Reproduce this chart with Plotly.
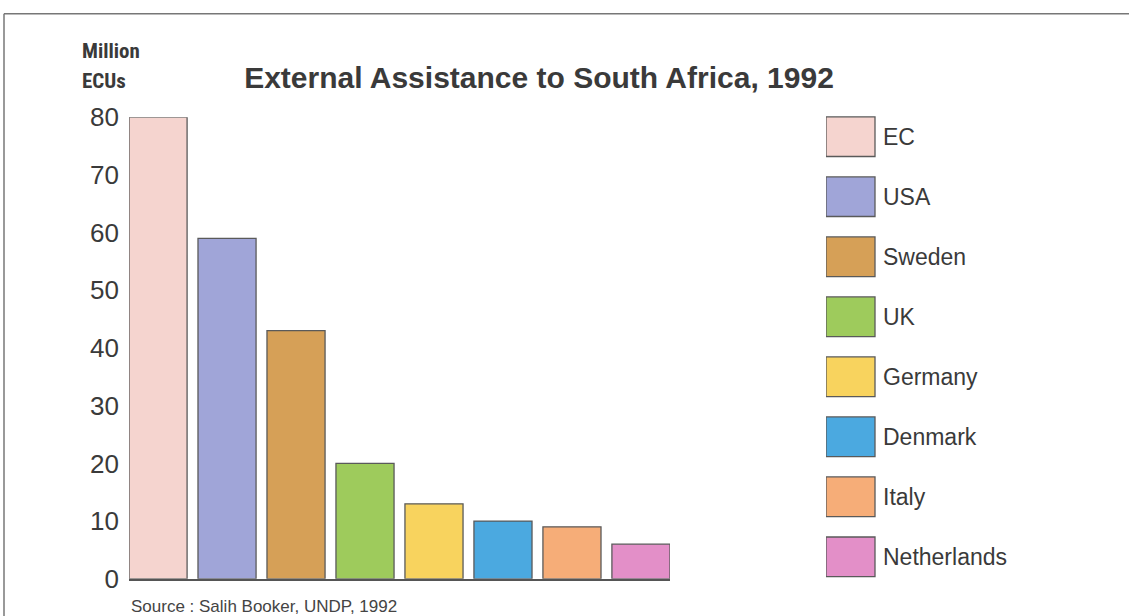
import plotly.graph_objects as go

# Donor countries and 1992 assistance (million ECUs)
donors = ["EC", "USA", "Sweden", "UK", "Germany", "Denmark", "Italy", "Netherlands"]
assistance = [80, 59, 43, 20, 13, 10, 9, 6]
bar_colors = ["#f5d4cf", "#a0a5d8", "#d6a057", "#9ecb5c",
              "#f8d35e", "#4ba9e0", "#f6ad78", "#e38fc8"]
y_ticks = [0, 10, 20, 30, 40, 50, 60, 70, 80]

W, H = 1129, 616
ML, MR, MT, MB = 129, 9, 100, 20
PW, PH = W - ML - MR, H - MT - MB


def px_x(px):
    return (px - ML) / PW


def px_y(py):
    return (H - MB - py) / PH


TEXT = "#3a3a3a"
FONT = "Liberation Sans, Arial, sans-serif"
NARROW = "Liberation Sans Narrow, Arial Narrow, Roboto Condensed, Liberation Sans, sans-serif"

fig = go.Figure()

# Main bar chart
fig.add_trace(go.Bar(
    x=donors, y=assistance, width=0.842,
    marker=dict(color=bar_colors, line=dict(color="#5a5a5a", width=1.3)),
    xaxis="x", yaxis="y", showlegend=False,
))

# Key: one swatch per donor, drawn as unit-length horizontal bars
fig.add_trace(go.Bar(
    y=donors, x=[1] * len(donors), orientation="h", width=0.66,
    marker=dict(color=bar_colors, line=dict(color="#5a5a5a", width=1.3)),
    xaxis="x2", yaxis="y2", showlegend=False, hoverinfo="skip",
))

annotations = []
for name in donors:
    annotations.append(dict(
        x=1, y=name, xref="x2", yref="y2", text=name, showarrow=False,
        xanchor="left", yanchor="middle", xshift=6,
        font=dict(family=FONT, size=23, color=TEXT),
    ))

annotations += [
    dict(x=px_x(80), y=px_y(51), xref="paper", yref="paper", text="Million",
         showarrow=False, xanchor="left", yanchor="middle",
         font=dict(family=NARROW, size=21, color=TEXT, weight="bold")),
    dict(x=px_x(80), y=px_y(81), xref="paper", yref="paper", text="ECUs",
         showarrow=False, xanchor="left", yanchor="middle",
         font=dict(family=NARROW, size=21, color=TEXT, weight="bold")),
    dict(x=px_x(129), y=px_y(599), xref="paper", yref="paper",
         text="Source : Salih Booker, UNDP, 1992",
         showarrow=False, xanchor="left", yanchor="top",
         font=dict(family=FONT, size=17, color="#444444")),
]

shapes = [
    dict(type="line", xref="paper", yref="paper",
         x0=px_x(4), x1=px_x(W + 5), y0=px_y(13), y1=px_y(13),
         line=dict(color="#777777", width=1.5)),
    dict(type="line", xref="paper", yref="paper",
         x0=px_x(4), x1=px_x(4), y0=px_y(13), y1=px_y(H + 10),
         line=dict(color="#777777", width=1.5)),
]

fig.update_layout(
    width=W, height=H,
    margin=dict(l=ML, r=MR, t=MT, b=MB, pad=0),
    paper_bgcolor="white", plot_bgcolor="white",
    title=dict(text="External Assistance to South Africa, 1992",
               x=539 / W, y=1 - 77 / H, xanchor="center", yanchor="middle",
               font=dict(family=FONT, size=30, color=TEXT, weight="bold")),
    xaxis=dict(domain=[0, px_x(670)], range=[-0.421, 7.421],
               showticklabels=False, ticks="", showgrid=False, zeroline=False,
               showline=True, linecolor="#555555", linewidth=1.5),
    yaxis=dict(domain=[px_y(582.7), px_y(117.3)], range=[0, 80],
               tickvals=y_ticks, ticks="", ticklabelstandoff=9,
               showgrid=False, zeroline=False, showline=False,
               tickfont=dict(family=FONT, size=26, color=TEXT)),
    xaxis2=dict(domain=[px_x(826), 1], range=[0, 6], visible=False),
    yaxis2=dict(domain=[px_y(590.75), px_y(106.75)], range=[7.5, -0.5],
                type="category", categoryorder="array", categoryarray=donors,
                visible=False),
    annotations=annotations,
    shapes=shapes,
)

fig.write_html("out.html")
